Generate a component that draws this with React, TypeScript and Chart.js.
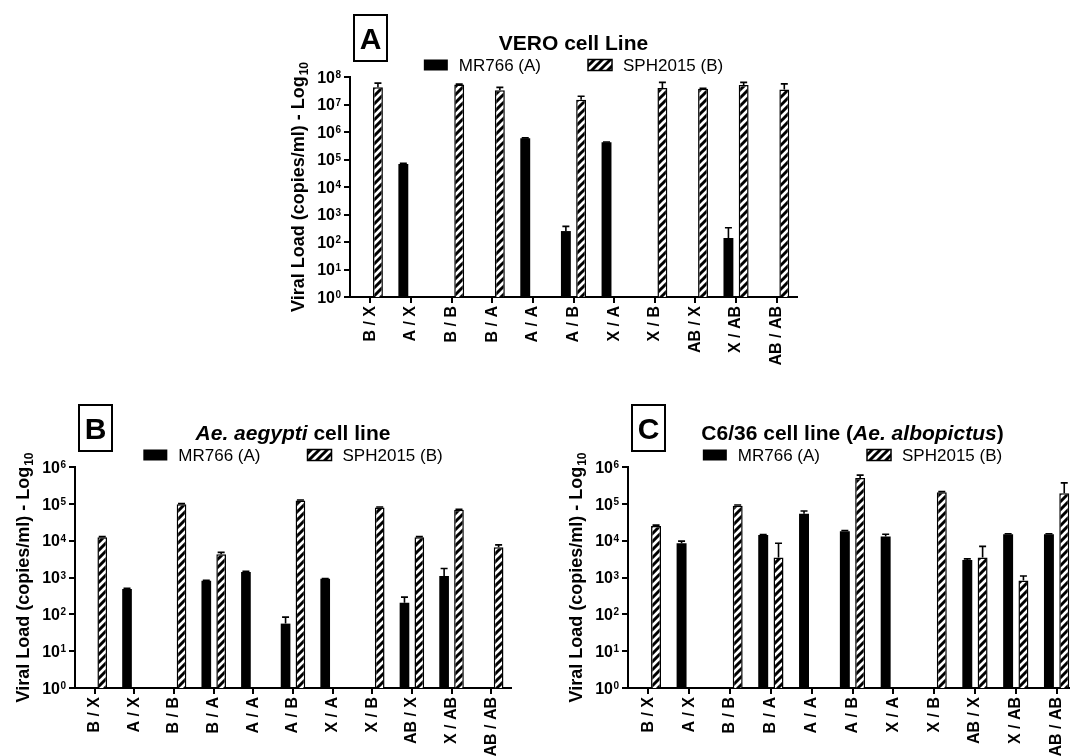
import React, { useEffect, useRef } from "react";
import { Chart, registerables } from "chart.js";

Chart.register(...registerables);

// ---------------- data ----------------
const categories = ["B / X", "A / X", "B / B", "B / A", "A / A", "A / B", "X / A", "X / B", "AB / X", "X / AB", "AB / AB"];
const seriesNames = ["MR766 (A)", "SPH2015 (B)"];

const veroTickExponents = [0, 1, 2, 3, 4, 5, 6, 7, 8];
const mosquitoTickExponents = [0, 1, 2, 3, 4, 5, 6];

const veroMR766 = [null, 6.9e4, null, null, 5.9e5, 2.5e2, 4.2e5, null, null, 1.4e2, null];
const veroMR766Err = [0, 4e3, 0, 0, 2e4, 1.2e2, 1.5e4, 0, 0, 1.9e2, 0];
const veroSPH2015 = [4.2e7, null, 5.3e7, 3.3e7, null, 1.5e7, null, 4.0e7, 3.7e7, 5.1e7, 3.5e7];
const veroSPH2015Err = [1.8e7, 0, 2e6, 0.9e7, 0, 0.5e7, 0, 2.4e7, 1.5e6, 1.3e7, 2.1e7];

const aegyptiMR766 = [null, 490, null, 810, 1420, 56, 920, null, 205, 1100, null];
const aegyptiMR766Err = [0, 20, 0, 30, 50, 28, 20, 0, 88, 650, 0];
const aegyptiSPH2015 = [12400, null, 98000, 4300, null, 124000, null, 80000, 12400, 69000, 6600];
const aegyptiSPH2015Err = [500, 0, 3000, 500, 0, 3000, 0, 2000, 500, 2000, 1100];

const albopictusMR766 = [null, 8500, null, 14200, 54000, 18000, 13000, null, 3000, 15000, 15000];
const albopictusMR766Err = [0, 1200, 0, 500, 10000, 800, 2000, 0, 200, 400, 400];
const albopictusSPH2015 = [25000, null, 89000, 3500, null, 500000, null, 205000, 3500, 830, 195000];
const albopictusSPH2015Err = [1500, 0, 4000, 5000, 0, 100000, 0, 10000, 3500, 270, 175000];

const veroTitle = [{ text: "VERO cell Line", italic: false }];
const aegyptiTitle = [
  { text: "Ae. aegypti", italic: true },
  { text: " cell line", italic: false },
];
const albopictusTitle = [
  { text: "C6/36 cell line (", italic: false },
  { text: "Ae. albopictus", italic: true },
  { text: ")", italic: false },
];
const yTitleMain = "Viral Load (copies/ml) - Log";
const yTitleSub = "10";
const tickBase = "10";

// ---------------- styling helpers ----------------
const FONT = "Arial, 'Liberation Sans', Helvetica, sans-serif";

function makeHatch(): CanvasPattern | string {
  const s = 8;
  const c = document.createElement("canvas");
  c.width = s;
  c.height = s;
  const g = c.getContext("2d");
  if (!g) return "#fff";
  g.fillStyle = "#fff";
  g.fillRect(0, 0, s, s);
  g.strokeStyle = "#000";
  g.lineWidth = 3;
  g.beginPath();
  g.moveTo(-1, s + 1);
  g.lineTo(s + 1, -1);
  g.moveTo(-s / 2 - 1, s / 2 + 1);
  g.lineTo(s / 2 + 1, -s / 2 - 1);
  g.moveTo(s / 2 - 1, s * 1.5 + 1);
  g.lineTo(s * 1.5 + 1, s / 2 - 1);
  g.stroke();
  return g.createPattern(c, "repeat") || "#fff";
}

type Seg = { text: string; italic: boolean };

interface PanelProps {
  letter: string;
  title: Seg[];
  mr766: (number | null)[];
  mr766Err: number[];
  sph: (number | null)[];
  sphErr: number[];
  exps: number[];
  left: number;
  top: number;
  width: number;
  height: number;
}

function Panel(p: PanelProps) {
  const ref = useRef<HTMLCanvasElement | null>(null);

  useEffect(() => {
    const canvas = ref.current;
    if (!canvas) return;
    const hatch = makeHatch();

    const errorBars = {
      id: "errorBars",
      afterDatasetsDraw(chart: any) {
        const ctx = chart.ctx;
        const yScale = chart.scales.y;
        const errs = [p.mr766Err, p.sphErr];
        ctx.save();
        ctx.strokeStyle = "#000";
        ctx.lineWidth = 1.6;
        chart.data.datasets.forEach((ds: any, di: number) => {
          const meta = chart.getDatasetMeta(di);
          meta.data.forEach((el: any, i: number) => {
            const v = ds.data[i];
            const e = errs[di][i];
            if (v == null || !e) return;
            const yTop = yScale.getPixelForValue(v + e);
            const x = el.x;
            ctx.beginPath();
            ctx.moveTo(x, el.y);
            ctx.lineTo(x, yTop);
            ctx.moveTo(x - 3.5, yTop);
            ctx.lineTo(x + 3.5, yTop);
            ctx.stroke();
          });
        });
        ctx.restore();
      },
    };

    const decor = {
      id: "decor",
      afterDraw(chart: any) {
        const ctx = chart.ctx;
        const a = chart.chartArea;
        const cx = (a.left + a.right) / 2;
        ctx.save();
        ctx.fillStyle = "#000";
        ctx.strokeStyle = "#000";

        // y tick labels: 10 with superscript exponent
        const ys = chart.scales.y;
        ctx.textAlign = "right";
        ctx.textBaseline = "alphabetic";
        ys.ticks.forEach((t: any) => {
          const y = ys.getPixelForValue(t.value);
          const e = String(Math.round(Math.log10(t.value)));
          ctx.font = `bold 10px ${FONT}`;
          const we = ctx.measureText(e).width;
          ctx.fillText(e, a.left - 9, y + 1);
          ctx.font = `bold 16px ${FONT}`;
          ctx.fillText(tickBase, a.left - 9 - we - 0.5, y + 5.7);
        });

        // panel letter box
        const bx = a.left + 4;
        const by = a.top - 62;
        ctx.lineWidth = 2;
        ctx.strokeRect(bx, by, 33, 46);
        ctx.font = `bold 30px ${FONT}`;
        ctx.textAlign = "center";
        ctx.fillText(p.letter, bx + 16.5, by + 34);

        // title with mixed styles
        ctx.textAlign = "left";
        const fontOf = (s: Seg) => `${s.italic ? "italic " : ""}bold 21px ${FONT}`;
        let tw = 0;
        const widths = p.title.map((s) => {
          ctx.font = fontOf(s);
          const w = ctx.measureText(s.text).width;
          tw += w;
          return w;
        });
        let tx = cx - tw / 2;
        p.title.forEach((s, i) => {
          ctx.font = fontOf(s);
          ctx.fillText(s.text, tx, a.top - 35 + 7.5);
          tx += widths[i];
        });

        // legend
        ctx.font = `17px ${FONT}`;
        const w1 = ctx.measureText(seriesNames[0]).width;
        const w2 = ctx.measureText(seriesNames[1]).width;
        const bw = 24;
        const bh = 11;
        const gap = 11;
        const between = 47;
        const total = bw + gap + w1 + between + bw + gap + w2;
        let lx = cx - total / 2;
        const ly = a.top - 12;
        ctx.fillStyle = "#000";
        ctx.fillRect(lx, ly - bh / 2, bw, bh);
        ctx.fillText(seriesNames[0], lx + bw + gap, ly + 6);
        lx += bw + gap + w1 + between;
        ctx.fillStyle = hatch as any;
        ctx.fillRect(lx, ly - bh / 2, bw, bh);
        ctx.lineWidth = 1.5;
        ctx.strokeRect(lx, ly - bh / 2, bw, bh);
        ctx.fillStyle = "#000";
        ctx.fillText(seriesNames[1], lx + bw + gap, ly + 6);

        // y axis title with subscript
        ctx.translate(a.left - 53, (a.top + a.bottom) / 2);
        ctx.rotate(-Math.PI / 2);
        ctx.font = `bold 18px ${FONT}`;
        const m1 = ctx.measureText(yTitleMain).width;
        ctx.font = `bold 12px ${FONT}`;
        const m2 = ctx.measureText(yTitleSub).width;
        const tot = m1 + 1 + m2;
        ctx.font = `bold 18px ${FONT}`;
        ctx.fillText(yTitleMain, -tot / 2, 6.5);
        ctx.font = `bold 12px ${FONT}`;
        ctx.fillText(yTitleSub, -tot / 2 + m1 + 1, 10.5);
        ctx.restore();
      },
    };

    const maxExp = p.exps[p.exps.length - 1];
    const chart = new Chart(canvas, {
      type: "bar",
      data: {
        labels: categories,
        datasets: [
          {
            label: seriesNames[0],
            data: p.mr766 as any,
            backgroundColor: "#000",
            borderColor: "#000",
            borderWidth: 0,
            categoryPercentage: 0.75,
            barPercentage: 0.65,
          },
          {
            label: seriesNames[1],
            data: p.sph as any,
            backgroundColor: hatch as any,
            borderColor: "#000",
            borderWidth: 1.5,
            categoryPercentage: 0.75,
            barPercentage: 0.65,
          },
        ],
      },
      options: {
        responsive: false,
        animation: false,
        devicePixelRatio: 1,
        layout: { padding: { top: 77, right: 14, bottom: 0, left: 0 } },
        plugins: {
          legend: { display: false },
          title: { display: false },
          tooltip: { enabled: false },
        },
        scales: {
          x: {
            type: "category",
            afterFit: (scale: any) => {
              scale.height = 80;
            },
            ticks: {
              autoSkip: false,
              minRotation: 90,
              maxRotation: 90,
              color: "#000",
              padding: 3,
              font: { family: FONT, size: 16, weight: "bold" },
            },
            grid: {
              offset: false,
              drawOnChartArea: false,
              drawTicks: true,
              tickLength: 6,
              color: "#000",
              lineWidth: 2,
            },
            border: { display: true, color: "#000", width: 2 },
          },
          y: {
            type: "logarithmic",
            min: 1,
            max: Math.pow(10, maxExp),
            afterFit: (scale: any) => {
              scale.width = 64;
            },
            afterBuildTicks: (scale: any) => {
              scale.ticks = p.exps.map((e) => ({ value: Math.pow(10, e) }));
            },
            ticks: { display: false },
            grid: {
              drawOnChartArea: false,
              drawTicks: true,
              tickLength: 6,
              color: "#000",
              lineWidth: 2,
            },
            border: { display: true, color: "#000", width: 2 },
          },
        },
      } as any,
      plugins: [errorBars, decor],
    });
    return () => chart.destroy();
  }, []);

  return (
    <canvas
      ref={ref}
      width={p.width}
      height={p.height}
      style={{ position: "absolute", left: p.left, top: p.top, width: p.width, height: p.height }}
    />
  );
}

export default function App() {
  return (
    <div
      style={{
        position: "absolute",
        left: 0,
        top: 0,
        width: 1070,
        height: 756,
        overflow: "hidden",
        background: "#fff",
      }}
    >
      <Panel
        letter="A"
        title={veroTitle}
        mr766={veroMR766}
        mr766Err={veroMR766Err}
        sph={veroSPH2015}
        sphErr={veroSPH2015Err}
        exps={veroTickExponents}
        left={286}
        top={0}
        width={525}
        height={377}
      />
      <Panel
        letter="B"
        title={aegyptiTitle}
        mr766={aegyptiMR766}
        mr766Err={aegyptiMR766Err}
        sph={aegyptiSPH2015}
        sphErr={aegyptiSPH2015Err}
        exps={mosquitoTickExponents}
        left={11}
        top={390}
        width={514}
        height={378}
      />
      <Panel
        letter="C"
        title={albopictusTitle}
        mr766={albopictusMR766}
        mr766Err={albopictusMR766Err}
        sph={albopictusSPH2015}
        sphErr={albopictusSPH2015Err}
        exps={mosquitoTickExponents}
        left={564}
        top={390}
        width={527}
        height={378}
      />
    </div>
  );
}
